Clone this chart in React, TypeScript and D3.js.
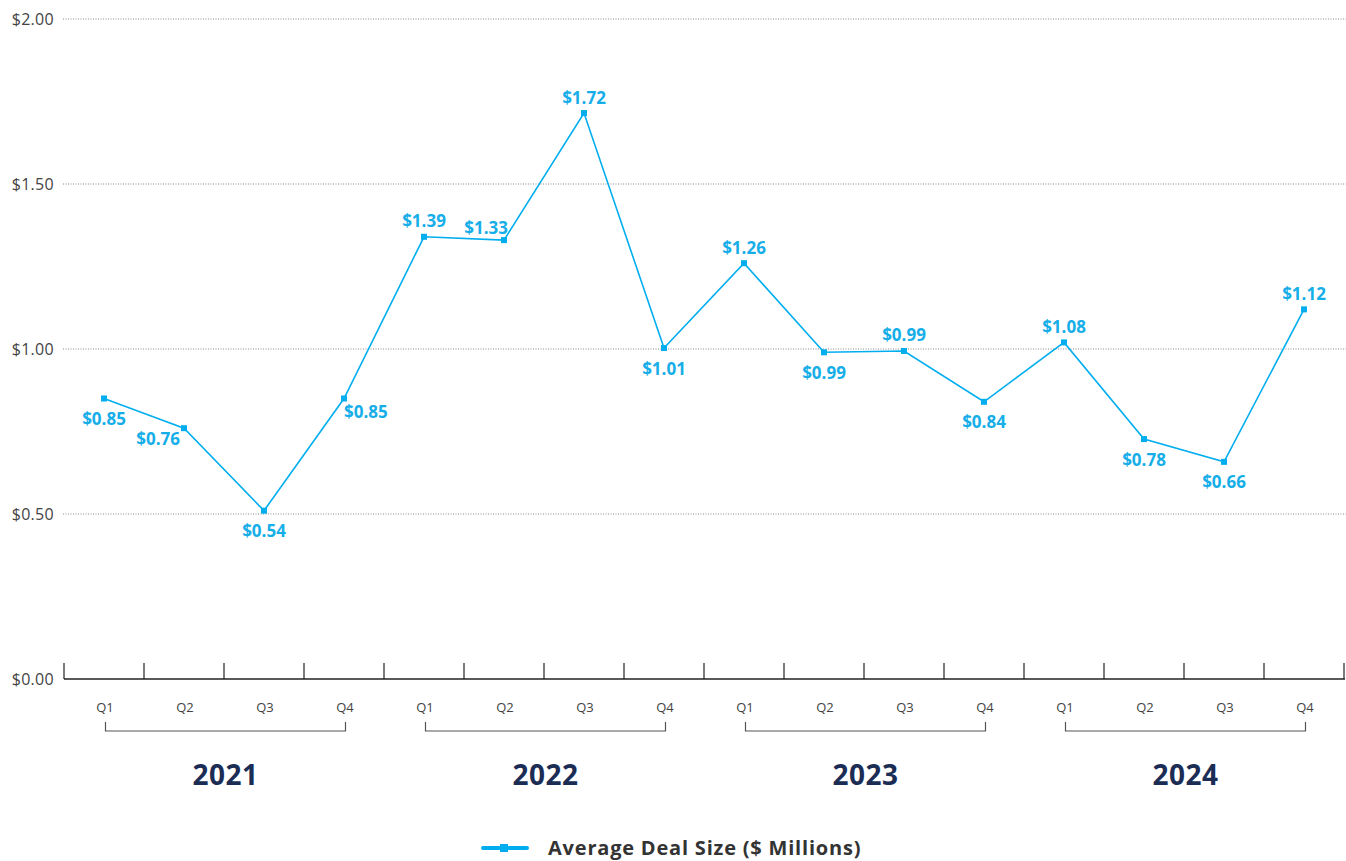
import React from "react";
import * as d3 from "d3";

const years = ["2021", "2022", "2023", "2024"];
const quarters = ["Q1", "Q2", "Q3", "Q4"];
// plotted positions (as drawn in the reference)
const dealSize = [0.85, 0.76, 0.51, 0.85, 1.34, 1.33, 1.715, 1.003, 1.26, 0.99, 0.994, 0.84, 1.02, 0.727, 0.658, 1.12];
// data labels as printed in the reference
const dealLabels = ["$0.85", "$0.76", "$0.54", "$0.85", "$1.39", "$1.33", "$1.72", "$1.01", "$1.26", "$0.99", "$0.99", "$0.84", "$1.08", "$0.78", "$0.66", "$1.12"];
const labelPlacement = ["below", "belowLeft", "below", "belowRight", "above", "aboveLeft", "above", "below", "above", "below", "above", "below", "above", "below", "below", "above"];
const yTicks = [0, 0.5, 1, 1.5, 2];
const seriesName = "Average Deal Size ($ Millions)";

const W = 1346;
const H = 861;
const FONT = "'Open Sans', 'Noto Sans', sans-serif";
const BLUE = "#00aeef";
const LABEL_BLUE = "#16aee8";

export default function App() {
  const keys = years.flatMap((y) => quarters.map((q) => `${y}-${q}`));
  const x = d3.scaleBand<string>().domain(keys).range([64, 1344]).padding(0);
  const y = d3.scaleLinear().domain([0, 2]).range([679, 19]);
  const cx = (i: number) => (x(keys[i]) as number) + x.bandwidth() / 2;

  const line = d3
    .line<number>()
    .x((_, i) => cx(i))
    .y((d) => y(d));

  const boundaries = keys.map((k) => x(k) as number).concat([1344]);

  const labelPos = (i: number) => {
    const px = cx(i);
    const py = y(dealSize[i]);
    const p = labelPlacement[i];
    if (p === "above") return { x: px, y: py - 16, anchor: "middle" };
    if (p === "below") return { x: px, y: py + 20, anchor: "middle" };
    if (p === "belowLeft") return { x: px - 4, y: py + 10, anchor: "end" };
    if (p === "belowRight") return { x: px, y: py + 13, anchor: "start" };
    return { x: px + 4, y: py - 13, anchor: "end" };
  };

  return (
    <svg
      width={W}
      height={H}
      style={{ position: "absolute", left: 0, top: 0, background: "#fff" }}
      fontFamily={FONT}
    >
      {/* gridlines */}
      {yTicks.filter((t) => t > 0).map((t) => (
        <line
          key={`g${t}`}
          x1={63}
          x2={W}
          y1={y(t)}
          y2={y(t)}
          stroke="#8a8a8a"
          strokeWidth={1}
          strokeDasharray="1,1.5"
        />
      ))}
      {/* y labels */}
      {yTicks.map((t) => (
        <text
          key={`yl${t}`}
          x={54}
          y={y(t)}
          textAnchor="end"
          dominantBaseline="central"
          fontSize={16}
          letterSpacing={0.3}
          fill="#444"
        >
          {d3.format("$.2f")(t)}
        </text>
      ))}
      {/* x axis */}
      <line x1={64} x2={1345} y1={y(0)} y2={y(0)} stroke="#222" strokeWidth={1.5} />
      {boundaries.map((b, i) => (
        <line key={`t${i}`} x1={b} x2={b} y1={y(0)} y2={y(0) - 16} stroke="#222" strokeWidth={1.2} />
      ))}
      {keys.map((k, i) => (
        <text
          key={`q${k}`}
          x={cx(i) + 1}
          y={707}
          textAnchor="middle"
          dominantBaseline="central"
          fontSize={13}
          fill="#444"
        >
          {quarters[i % 4]}
        </text>
      ))}
      {/* year brackets */}
      {years.map((yr, j) => {
        const x1 = cx(j * 4) + 1.5;
        const x2 = cx(j * 4 + 3) + 1.5;
        return (
          <g key={`yr${yr}`}>
            <path
              d={`M${x1},722 V731 H${x2} V722`}
              fill="none"
              stroke="#555"
              strokeWidth={1.2}
            />
            <text
              x={(x1 + x2) / 2}
              y={774}
              textAnchor="middle"
              dominantBaseline="central"
              fontSize={28}
              fontWeight={700}
              letterSpacing={0.5}
              fill="#1b2d55"
            >
              {yr}
            </text>
          </g>
        );
      })}
      {/* series line */}
      <path d={line(dealSize) || ""} fill="none" stroke={BLUE} strokeWidth={1.6} />
      {dealSize.map((v, i) => (
        <rect key={`m${i}`} x={cx(i) - 3} y={y(v) - 3} width={6} height={6} fill={BLUE} />
      ))}
      {dealLabels.map((l, i) => {
        const p = labelPos(i);
        return (
          <text
            key={`dl${i}`}
            x={p.x}
            y={p.y}
            textAnchor={p.anchor as any}
            dominantBaseline="central"
            fontSize={17}
            fontWeight={700}
            fill={LABEL_BLUE}
          >
            {l}
          </text>
        );
      })}
      {/* legend */}
      <line x1={483} x2={527} y1={848} y2={848} stroke={BLUE} strokeWidth={4} strokeLinecap="round" />
      <rect x={500} y={844} width={8} height={8} fill={BLUE} />
      <text x={548} y={855} fontSize={20} fontWeight={700} letterSpacing={0.8} fill="#333">
        {seriesName}
      </text>
    </svg>
  );
}
